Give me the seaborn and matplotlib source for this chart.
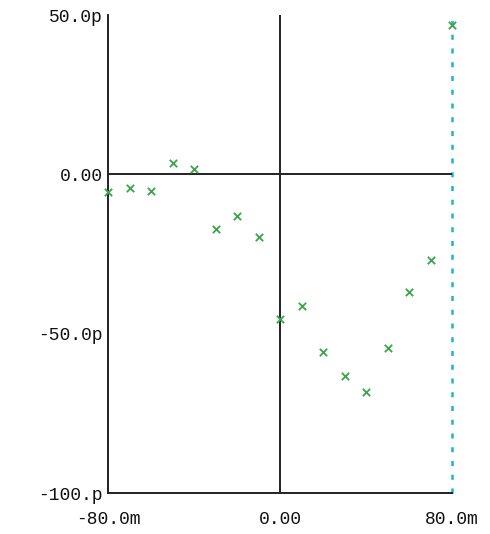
import numpy as np
import pandas as pd
import seaborn as sns
from matplotlib import pyplot as plt
from matplotlib.ticker import FixedLocator

# datos (x en m, y en p)
x_m = [-80, -70, -60, -50, -40, -30, -20, -10, 0, 10, 20, 30, 40, 50, 60, 70, 80]
y_p = [-5.6, -4.2, -5.1, 3.4, 1.8, -17.0, -13.1, -19.7, -45.5, -41.4,
       -55.9, -63.3, -68.3, -54.4, -36.9, -27.0, 46.8]

x_ticks = [-80, 0, 80]
x_labels = ['-80.0m', '0.00', '80.0m']
y_ticks = [50, 0, -50, -100]
y_labels = ['50.0p', '0.00', '-50.0p', '-100.p']

df = pd.DataFrame({'x': x_m, 'y': y_p})

sns.set_style('white')
plt.rcParams['font.family'] = ['Liberation Mono', 'DejaVu Sans Mono']

fig = plt.figure(figsize=(4.9, 5.34), dpi=100)
ax = fig.add_axes([108 / 490, 41 / 534, 344 / 490, 478 / 534])

# linea discontinua en el limite derecho
ax.axvline(80, color='#1fb5c4', linestyle=(0, (2.0, 3.5)), linewidth=1.8,
           zorder=1, clip_on=False)

# ejes en cero
ax.axhline(0, color='#222222', linewidth=1.4, zorder=2)
ax.axvline(0, color='#222222', linewidth=1.4, zorder=2)

sns.scatterplot(data=df, x='x', y='y', marker='x', color='#3aa648',
                s=28, linewidth=1.3, ax=ax, zorder=3, clip_on=False)

ax.set_xlim(-80, 80)
ax.set_ylim(-100, 50)
ax.xaxis.set_major_locator(FixedLocator(x_ticks))
ax.set_xticklabels(x_labels)
ax.yaxis.set_major_locator(FixedLocator(y_ticks))
ax.set_yticklabels(y_labels)
ax.set_xlabel('')
ax.set_ylabel('')

for s in ['top', 'right']:
    ax.spines[s].set_visible(False)
for s in ['left', 'bottom']:
    ax.spines[s].set_color('#222222')
    ax.spines[s].set_linewidth(1.4)

ax.tick_params(axis='y', direction='out', length=3, width=1.2, color='#222222',
               labelsize=13, labelcolor='#111111', pad=1)
ax.tick_params(axis='x', direction='in', length=3, width=1.2, color='#222222',
               labelsize=13, labelcolor='#111111', pad=13)

plt.savefig('out.png', dpi=100)
